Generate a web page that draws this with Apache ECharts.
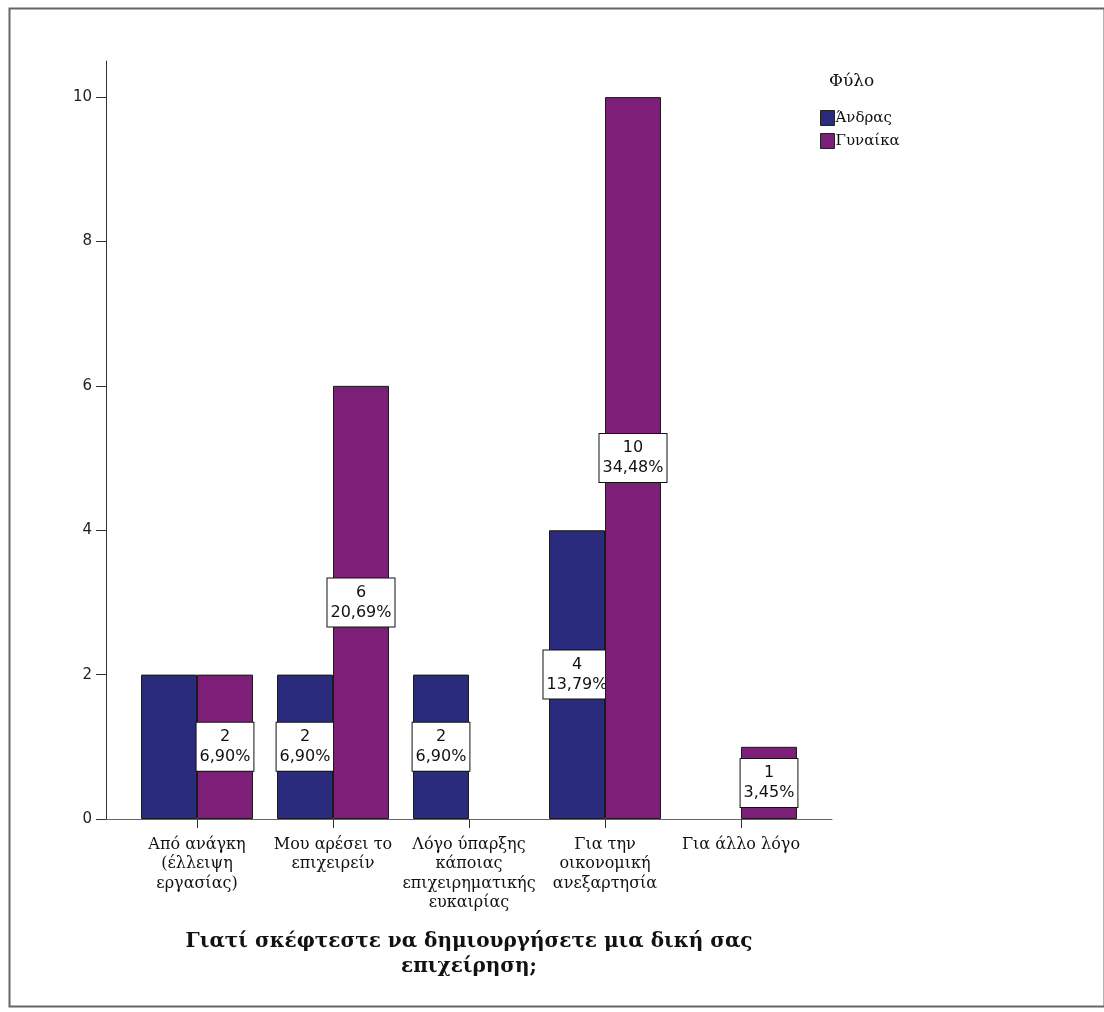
<!DOCTYPE html>
<html>
<head>
<meta charset="utf-8">
<script src="https://cdn.jsdelivr.net/npm/echarts@6/dist/echarts.min.js"></script>
<style>
html,body{margin:0;padding:0;background:#fff;}
#chart{width:1104px;height:1012px;}
</style>
</head>
<body>
<div id="chart"></div>
<script>
const categories = [
  'Από ανάγκη\n(έλλειψη\nεργασίας)',
  'Μου αρέσει το\nεπιχειρείν',
  'Λόγο ύπαρξης\nκάποιας\nεπιχειρηματικής\nευκαιρίας',
  'Για την\nοικονομική\nανεξαρτησία',
  'Για άλλο λόγο'
];
const seriesNames = ['Άνδρας', 'Γυναίκα'];
const maleValues = [2, 2, 2, 4, 0];
const femaleValues = [2, 6, 0, 10, 1];
const maleLabelShown = [false, true, true, true, false];
const femaleLabelShown = [true, true, false, true, true];
const yTicks = [0, 2, 4, 6, 8, 10];
const totalCount = 29;
const axisTitle = 'Γιατί σκέφτεστε να δημιουργήσετε μια δική σας\nεπιχείρηση;';
const legendTitle = 'Φύλο';

const colors = ['#2b2b7e', '#7d1f79'];

function pct(v) {
  return (v / totalCount * 100).toFixed(2).replace('.', ',') + '%';
}
const labelStyle = {
  show: true,
  position: 'inside',
  formatter: p => p.value + '\n' + pct(p.value),
  backgroundColor: '#fff',
  borderColor: '#111',
  borderWidth: 1,
  padding: [4, 3, 4, 3],
  color: '#111',
  fontFamily: 'DejaVu Sans',
  fontSize: 16,
  lineHeight: 20,
  align: 'center'
};
function buildData(values, shown) {
  return values.map((v, i) => {
    const item = { value: v, label: { show: shown[i] && v > 0 } };
    if (v === 0) item.itemStyle = { borderWidth: 0, opacity: 0 };
    return item;
  });
}

const chart = echarts.init(document.getElementById('chart'));
chart.setOption({
  backgroundColor: '#fff',
  animation: false,
  title: {
    text: legendTitle,
    left: 829, top: 73,
    padding: 0,
    textStyle: { fontFamily: 'DejaVu Serif', fontSize: 17, fontWeight: 'normal', color: '#111' }
  },
  legend: {
    orient: 'vertical',
    left: 820, top: 110,
    padding: 0,
    itemWidth: 14, itemHeight: 15, itemGap: 7,
    icon: 'rect',
    data: seriesNames,
    itemStyle: { borderColor: '#222', borderWidth: 1 },
    textStyle: { fontFamily: 'DejaVu Serif', fontSize: 15, lineHeight: 15, color: '#111', padding: [0, 0, 0, -4] }
  },
  grid: [
    { left: 106, top: 61, width: 726, height: 758, containLabel: false },
    { left: 129, top: 61, width: 680, height: 758, containLabel: false }
  ],
  xAxis: [
    {
      gridIndex: 0, type: 'value', min: 0, max: 1,
      axisLine: { show: true, lineStyle: { color: '#666', width: 1 } },
      axisTick: { show: false }, axisLabel: { show: false }, splitLine: { show: false }
    },
    {
      gridIndex: 1, type: 'category', data: categories,
      axisLine: { show: false },
      axisTick: { show: true, alignWithLabel: true, length: 9, lineStyle: { color: '#333' } },
      axisLabel: { interval: 0, margin: 16, fontFamily: 'DejaVu Serif', fontSize: 16, lineHeight: 19.5, color: '#111' },
      name: axisTitle,
      nameLocation: 'middle',
      nameGap: 110,
      nameMoveOverlap: false,
      nameTextStyle: { fontFamily: 'DejaVu Serif', fontSize: 20, fontWeight: 'bold', lineHeight: 25, color: '#111' }
    }
  ],
  yAxis: [
    {
      gridIndex: 0, type: 'value', min: 0, max: 10.5,
      axisLine: { show: true, lineStyle: { color: '#333', width: 1 } },
      axisTick: { show: true, length: 10, customValues: yTicks, lineStyle: { color: '#333' } },
      axisLabel: { customValues: yTicks, margin: 14, fontFamily: 'DejaVu Sans', fontSize: 15, color: '#222' },
      splitLine: { show: false }
    },
    {
      gridIndex: 1, type: 'value', min: 0, max: 10.5, show: false,
      splitLine: { show: false }
    }
  ],
  series: [
    {
      name: seriesNames[0], type: 'bar', xAxisIndex: 1, yAxisIndex: 1,
      data: buildData(maleValues, maleLabelShown),
      barWidth: 56, barGap: '0%',
      itemStyle: { color: colors[0], borderColor: '#1a1a1a', borderWidth: 1 },
      label: labelStyle, z: 2
    },
    {
      name: seriesNames[1], type: 'bar', xAxisIndex: 1, yAxisIndex: 1,
      data: buildData(femaleValues, femaleLabelShown),
      barWidth: 56, barGap: '0%',
      itemStyle: { color: colors[1], borderColor: '#1a1a1a', borderWidth: 1 },
      label: labelStyle, z: 3
    }
  ],
  graphic: [
    {
      type: 'rect', left: 7, top: 6, z: -1,
      shape: { width: 1095, height: 998 },
      style: { fill: 'none', stroke: '#666', lineWidth: 2 }
    }
  ]
});
</script>
</body>
</html>
